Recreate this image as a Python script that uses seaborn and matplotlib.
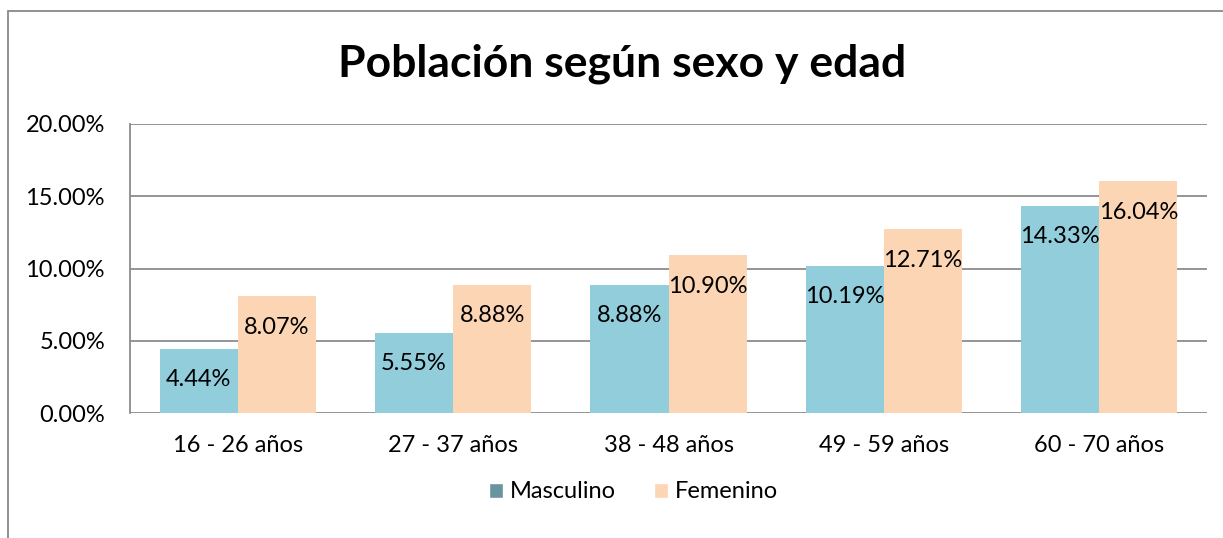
import pandas as pd
import matplotlib.pyplot as plt
import seaborn as sns
from matplotlib.patches import Rectangle, Patch

# data
grupos = ['16 - 26 años', '27 - 37 años', '38 - 48 años', '49 - 59 años', '60 - 70 años']
masculino = [4.44, 5.55, 8.88, 10.19, 14.33]
femenino = [8.07, 8.88, 10.90, 12.71, 16.04]
series = ['Masculino', 'Femenino']
colores = ['#92CDDC', '#FCD5B5']

df = pd.DataFrame({
    'grupo': grupos * 2,
    'sexo': [series[0]] * len(grupos) + [series[1]] * len(grupos),
    'valor': masculino + femenino,
})

sns.set_style('white', {'text.color': 'black', 'xtick.color': 'black', 'ytick.color': 'black'})
plt.rcParams['font.family'] = ['Lato', 'DejaVu Sans']

fig = plt.figure(figsize=(12.23, 5.38), dpi=100)
ax = fig.add_axes([130 / 1223, 1 - 413 / 538, (1207 - 130) / 1223, (413 - 124) / 538])

sns.barplot(data=df, x='grupo', y='valor', hue='sexo', palette=colores,
            width=0.725, saturation=1, linewidth=0, ax=ax, legend=False)

for cont in ax.containers:
    for bar in cont:
        h = bar.get_height()
        ax.annotate(f'{h:.2f}%', (bar.get_x() + bar.get_width() / 2, h),
                    xytext=(0, -31), textcoords='offset pixels',
                    ha='center', va='center', fontsize=17, color='black')

ax.set_ylim(0, 20)
ax.set_xlim(-0.5, 4.5)
ax.set_yticks([0, 5, 10, 15, 20])
ax.set_yticklabels([f'{v:.2f}%' for v in [0, 5, 10, 15, 20]], fontsize=17)
ax.tick_params(axis='x', labelsize=17, pad=16, length=0, labelcolor='black')
ax.tick_params(axis='y', pad=18, length=0, labelcolor='black')
ax.set_xlabel('')
ax.set_ylabel('')
ax.yaxis.grid(True, color='#8C8C8C', linewidth=1.3)
ax.set_axisbelow(True)
for s in ['top', 'right', 'bottom']:
    ax.spines[s].set_visible(False)
ax.spines['left'].set_color('#8C8C8C')
ax.spines['left'].set_linewidth(1.3)

fig.text(622 / 1223, 1 - 64 / 538, 'Población según sexo y edad', ha='center', va='center',
         fontsize=32, fontweight='bold', color='black')

handles = [Patch(facecolor='#6A949E'), Patch(facecolor=colores[1])]
fig.legend(handles, series, loc='center', bbox_to_anchor=(0.518, 1 - 492 / 538),
           ncol=2, frameon=False, fontsize=17, handlelength=0.6, handleheight=0.6,
           handletextpad=0.3, columnspacing=1.6, labelcolor='black')

# outer chart border, cut at the right and bottom edges
fig.patches.append(Rectangle((8 / 1223, -0.1), 1.2, 1.1 - 11 / 538, transform=fig.transFigure,
                             fill=False, edgecolor='#888888', linewidth=1.3))

fig.savefig('out.png', dpi=100)
